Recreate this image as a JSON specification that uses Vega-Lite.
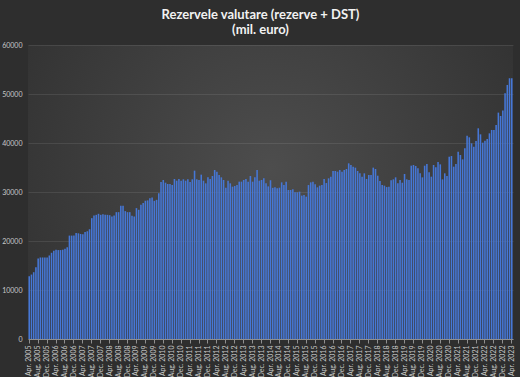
{
"$schema": "https://vega.github.io/schema/vega-lite/v6.json",
"width": 485, "height": 294,
"autosize": "none",
"padding": {"left": 28, "top": 45, "right": 7, "bottom": 38},
"background": "#2e2e2e",
"config": {"font": "Lato", "view": {"stroke": null}},
"view": {"fill": {"gradient": "radial", "x1": 0.5, "y1": 0.45, "r1": 0, "x2": 0.5, "y2": 0.45, "r2": 0.75, "stops": [{"offset": 0, "color": "#4d4d4d"}, {"offset": 1, "color": "#2b2b2b"}]}, "stroke": null},
"title": {"text": ["Rezervele valutare (rezerve + DST)", "(mil. euro)"], "color": "#f2f2f2", "fontSize": 13, "fontWeight": "bold", "offset": 4, "lineHeight": 15, "dx": -10},
"data": {"values": [
{"m":"Apr. 2005","v":12810},{"m":"May. 2005","v":13150},{"m":"Jun. 2005","v":13630},{"m":"Jul. 2005","v":14660},{"m":"Aug. 2005","v":16440},{"m":"Sep. 2005","v":16640},{"m":"Oct. 2005","v":16640},{"m":"Nov. 2005","v":16640},{"m":"Dec. 2005","v":16640},
{"m":"Jan. 2006","v":17050},{"m":"Feb. 2006","v":17600},{"m":"Mar. 2006","v":18010},{"m":"Apr. 2006","v":18220},{"m":"May. 2006","v":18150},{"m":"Jun. 2006","v":18150},{"m":"Jul. 2006","v":18220},{"m":"Aug. 2006","v":18420},{"m":"Sep. 2006","v":18700},{"m":"Oct. 2006","v":21100},{"m":"Nov. 2006","v":21100},{"m":"Dec. 2006","v":21100},
{"m":"Jan. 2007","v":21640},{"m":"Feb. 2007","v":21570},{"m":"Mar. 2007","v":21440},{"m":"Apr. 2007","v":21370},{"m":"May. 2007","v":21850},{"m":"Jun. 2007","v":21990},{"m":"Jul. 2007","v":22400},{"m":"Aug. 2007","v":24660},{"m":"Sep. 2007","v":25200},{"m":"Oct. 2007","v":25340},{"m":"Nov. 2007","v":25550},{"m":"Dec. 2007","v":25340},
{"m":"Jan. 2008","v":25480},{"m":"Feb. 2008","v":25340},{"m":"Mar. 2008","v":25340},{"m":"Apr. 2008","v":25270},{"m":"May. 2008","v":25000},{"m":"Jun. 2008","v":25200},{"m":"Jul. 2008","v":25890},{"m":"Aug. 2008","v":25890},{"m":"Sep. 2008","v":27190},{"m":"Oct. 2008","v":27190},{"m":"Nov. 2008","v":26100},{"m":"Dec. 2008","v":25890},
{"m":"Jan. 2009","v":25890},{"m":"Feb. 2009","v":25140},{"m":"Mar. 2009","v":25000},{"m":"Apr. 2009","v":26710},{"m":"May. 2009","v":26370},{"m":"Jun. 2009","v":27400},{"m":"Jul. 2009","v":27740},{"m":"Aug. 2009","v":28220},{"m":"Sep. 2009","v":28290},{"m":"Oct. 2009","v":28700},{"m":"Nov. 2009","v":28900},{"m":"Dec. 2009","v":28200},
{"m":"Jan. 2010","v":28400},{"m":"Feb. 2010","v":29730},{"m":"Mar. 2010","v":32040},{"m":"Apr. 2010","v":32450},{"m":"May. 2010","v":31900},{"m":"Jun. 2010","v":31630},{"m":"Jul. 2010","v":31630},{"m":"Aug. 2010","v":31430},{"m":"Sep. 2010","v":32650},{"m":"Oct. 2010","v":32310},{"m":"Nov. 2010","v":32650},{"m":"Dec. 2010","v":32310},
{"m":"Jan. 2011","v":32590},{"m":"Feb. 2011","v":32310},{"m":"Mar. 2011","v":32590},{"m":"Apr. 2011","v":32040},{"m":"May. 2011","v":32590},{"m":"Jun. 2011","v":34360},{"m":"Jul. 2011","v":32590},{"m":"Aug. 2011","v":32450},{"m":"Sep. 2011","v":33540},{"m":"Oct. 2011","v":32310},{"m":"Nov. 2011","v":31770},{"m":"Dec. 2011","v":32990},
{"m":"Jan. 2012","v":32650},{"m":"Feb. 2012","v":33260},{"m":"Mar. 2012","v":34490},{"m":"Apr. 2012","v":34150},{"m":"May. 2012","v":33470},{"m":"Jun. 2012","v":32990},{"m":"Jul. 2012","v":32450},{"m":"Aug. 2012","v":30880},{"m":"Sep. 2012","v":32310},{"m":"Oct. 2012","v":31770},{"m":"Nov. 2012","v":31090},{"m":"Dec. 2012","v":31220},
{"m":"Jan. 2013","v":31430},{"m":"Feb. 2013","v":32110},{"m":"Mar. 2013","v":32110},{"m":"Apr. 2013","v":32450},{"m":"May. 2013","v":32650},{"m":"Jun. 2013","v":32110},{"m":"Jul. 2013","v":33260},{"m":"Aug. 2013","v":32110},{"m":"Sep. 2013","v":32990},{"m":"Oct. 2013","v":34490},{"m":"Nov. 2013","v":32310},{"m":"Dec. 2013","v":32450},
{"m":"Jan. 2014","v":32790},{"m":"Feb. 2014","v":31770},{"m":"Mar. 2014","v":31150},{"m":"Apr. 2014","v":32400},{"m":"May. 2014","v":30850},{"m":"Jun. 2014","v":30950},{"m":"Jul. 2014","v":30750},{"m":"Aug. 2014","v":30880},{"m":"Sep. 2014","v":31970},{"m":"Oct. 2014","v":31420},{"m":"Nov. 2014","v":32100},{"m":"Dec. 2014","v":30410},
{"m":"Jan. 2015","v":30410},{"m":"Feb. 2015","v":30550},{"m":"Mar. 2015","v":29940},{"m":"Apr. 2015","v":29940},{"m":"May. 2015","v":30070},{"m":"Jun. 2015","v":29260},{"m":"Jul. 2015","v":29390},{"m":"Aug. 2015","v":29050},{"m":"Sep. 2015","v":31420},{"m":"Oct. 2015","v":31970},{"m":"Nov. 2015","v":32100},{"m":"Dec. 2015","v":31560},
{"m":"Jan. 2016","v":30950},{"m":"Feb. 2016","v":31290},{"m":"Mar. 2016","v":31420},{"m":"Apr. 2016","v":32660},{"m":"May. 2016","v":31830},{"m":"Jun. 2016","v":32790},{"m":"Jul. 2016","v":33130},{"m":"Aug. 2016","v":34290},{"m":"Sep. 2016","v":34290},{"m":"Oct. 2016","v":34150},{"m":"Nov. 2016","v":34490},{"m":"Dec. 2016","v":34150},
{"m":"Jan. 2017","v":34490},{"m":"Feb. 2017","v":34690},{"m":"Mar. 2017","v":35850},{"m":"Apr. 2017","v":35510},{"m":"May. 2017","v":35170},{"m":"Jun. 2017","v":34970},{"m":"Jul. 2017","v":34290},{"m":"Aug. 2017","v":33810},{"m":"Sep. 2017","v":33130},{"m":"Oct. 2017","v":33810},{"m":"Nov. 2017","v":32660},{"m":"Dec. 2017","v":33470},
{"m":"Jan. 2018","v":33470},{"m":"Feb. 2018","v":34970},{"m":"Mar. 2018","v":34690},{"m":"Apr. 2018","v":33330},{"m":"May. 2018","v":32250},{"m":"Jun. 2018","v":31420},{"m":"Jul. 2018","v":31290},{"m":"Aug. 2018","v":31010},{"m":"Sep. 2018","v":31090},{"m":"Oct. 2018","v":32380},{"m":"Nov. 2018","v":32580},{"m":"Dec. 2018","v":32990},
{"m":"Jan. 2019","v":31770},{"m":"Feb. 2019","v":32450},{"m":"Mar. 2019","v":31900},{"m":"Apr. 2019","v":33670},{"m":"May. 2019","v":32580},{"m":"Jun. 2019","v":32450},{"m":"Jul. 2019","v":35370},{"m":"Aug. 2019","v":35510},{"m":"Sep. 2019","v":35300},{"m":"Oct. 2019","v":34830},{"m":"Nov. 2019","v":33810},{"m":"Dec. 2019","v":32990},
{"m":"Jan. 2020","v":35370},{"m":"Feb. 2020","v":35710},{"m":"Mar. 2020","v":34010},{"m":"Apr. 2020","v":33130},{"m":"May. 2020","v":35510},{"m":"Jun. 2020","v":35030},{"m":"Jul. 2020","v":36120},{"m":"Aug. 2020","v":35640},{"m":"Sep. 2020","v":32580},{"m":"Oct. 2020","v":33810},{"m":"Nov. 2020","v":33260},{"m":"Dec. 2020","v":37200},
{"m":"Jan. 2021","v":37340},{"m":"Feb. 2021","v":35170},{"m":"Mar. 2021","v":35710},{"m":"Apr. 2021","v":38230},{"m":"May. 2021","v":37550},{"m":"Jun. 2021","v":36660},{"m":"Jul. 2021","v":38910},{"m":"Aug. 2021","v":41500},{"m":"Sep. 2021","v":41160},{"m":"Oct. 2021","v":39930},{"m":"Nov. 2021","v":39250},{"m":"Dec. 2021","v":40410},
{"m":"Jan. 2022","v":43000},{"m":"Feb. 2022","v":41770},{"m":"Mar. 2022","v":40070},{"m":"Apr. 2022","v":40480},{"m":"May. 2022","v":40820},{"m":"Jun. 2022","v":41970},{"m":"Jul. 2022","v":42660},{"m":"Aug. 2022","v":42660},{"m":"Sep. 2022","v":43680},{"m":"Oct. 2022","v":46200},{"m":"Nov. 2022","v":45520},{"m":"Dec. 2022","v":46610},
{"m":"Jan. 2023","v":50150},{"m":"Feb. 2023","v":51850},{"m":"Mar. 2023","v":53210},{"m":"Apr. 2023","v":53210}
]},
"mark": {"type": "bar", "color": "#4677d6"},
"encoding": {
 "x": {"field": "m", "type": "ordinal", "sort": null,
   "scale": {"paddingInner": 0.3, "paddingOuter": 0.2},
   "axis": {"title": null, "labelAngle": -90, "labelFontSize": 7, "labelColor": "#c8c8c8", "domainColor": "#8f8f8f", "tickColor": "#8f8f8f", "tickSize": 4, "labelPadding": 2,
     "values": ["Apr. 2005","Aug. 2005","Dec. 2005","Apr. 2006","Aug. 2006","Dec. 2006","Apr. 2007","Aug. 2007","Dec. 2007","Apr. 2008","Aug. 2008","Dec. 2008","Apr. 2009","Aug. 2009","Dec. 2009","Apr. 2010","Aug. 2010","Dec. 2010","Apr. 2011","Aug. 2011","Dec. 2011","Apr. 2012","Aug. 2012","Dec. 2012","Apr. 2013","Aug. 2013","Dec. 2013","Apr. 2014","Aug. 2014","Dec. 2014","Apr. 2015","Aug. 2015","Dec. 2015","Apr. 2016","Aug. 2016","Dec. 2016","Apr. 2017","Aug. 2017","Dec. 2017","Apr. 2018","Aug. 2018","Dec. 2018","Apr. 2019","Aug. 2019","Dec. 2019","Apr. 2020","Aug. 2020","Dec. 2020","Apr. 2021","Aug. 2021","Dec. 2021","Apr. 2022","Aug. 2022","Dec. 2022","Apr. 2023"]}},
 "y": {"field": "v", "type": "quantitative", "scale": {"domain": [0, 60000]},
   "axis": {"title": null, "values": [0,10000,20000,30000,40000,50000,60000], "format": "d", "labelFontSize": 7, "labelColor": "#c8c8c8", "domain": false, "ticks": false, "gridColor": "#ffffff", "gridOpacity": 0.09, "labelPadding": 6}}
}
}
